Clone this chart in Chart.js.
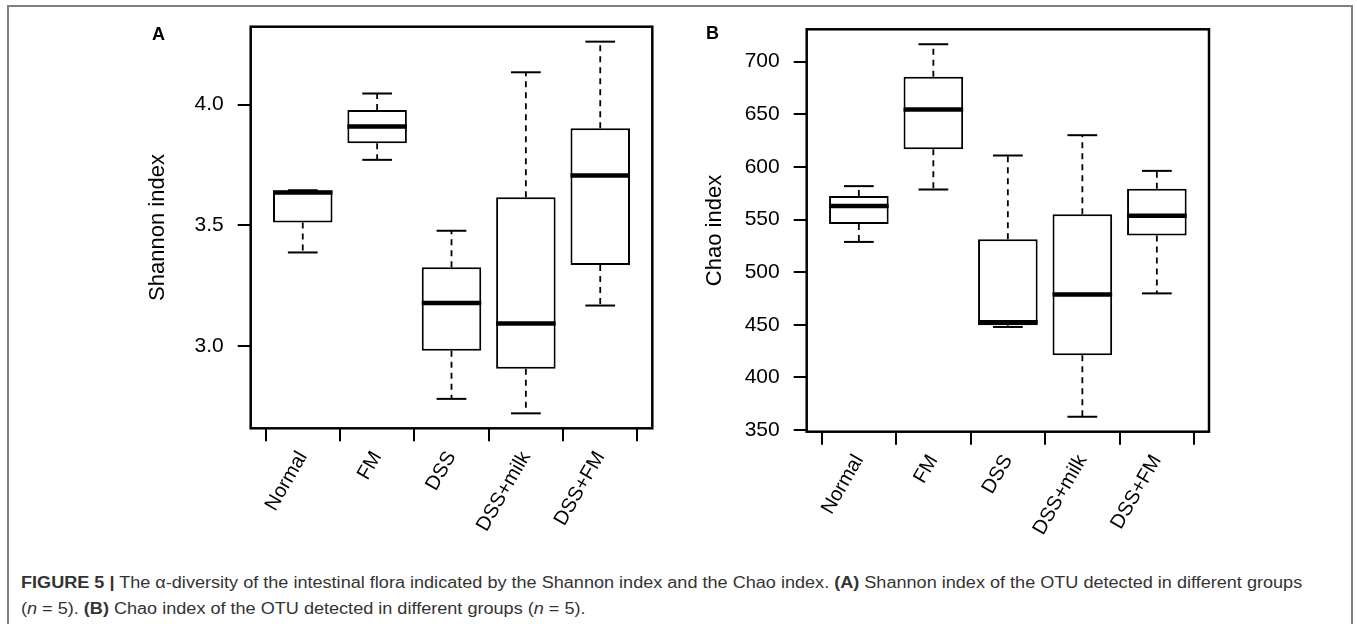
<!DOCTYPE html>
<html><head><meta charset="utf-8">
<script src="https://cdn.jsdelivr.net/npm/chart.js@4.4.1/dist/chart.umd.min.js"></script>
<style>
html,body{margin:0;padding:0;background:#fff;width:1357px;height:624px;overflow:hidden;font-family:"Liberation Sans",Arial,sans-serif;}
#frame{position:absolute;left:7px;top:5px;width:1346px;height:700px;border:2px solid #808080;box-sizing:border-box;}
canvas{position:absolute;top:0;}
#cA{left:120px;} #cB{left:680px;}
.lab{position:absolute;font-weight:bold;font-size:18px;line-height:18px;color:#000;}
#cap{position:absolute;left:21px;top:570px;font-size:16px;line-height:26px;color:#333;white-space:nowrap;transform:scaleX(1.13);transform-origin:0 0;}
</style></head>
<body>
<div id="frame"></div>
<canvas id="cA" width="560" height="545"></canvas>
<canvas id="cB" width="560" height="545"></canvas>
<div class="lab" style="left:152px;top:25px;">A</div>
<div class="lab" style="left:706px;top:24px;">B</div>
<div id="cap"><b>FIGURE 5 |</b> The α-diversity of the intestinal flora indicated by the Shannon index and the Chao index. <b>(A)</b> Shannon index of the OTU detected in different groups<br>(<i>n</i> = 5). <b>(B)</b> Chao index of the OTU detected in different groups (<i>n</i> = 5).</div>
<script>
const categories = ['Normal', 'FM', 'DSS', 'DSS+milk', 'DSS+FM'];
const xPositions = [1, 2, 3, 4, 5];

const shannonMin = [3.387, 3.771, 2.780, 2.720, 3.167];
const shannonQ1  = [3.511, 3.840, 2.979, 2.905, 3.335];
const shannonMed = [3.636, 3.909, 3.177, 3.093, 3.706];
const shannonQ3  = [3.644, 3.978, 3.326, 3.616, 3.902];
const shannonMax = [3.645, 4.046, 3.477, 4.134, 4.261];
const shannonTicks = [3.0, 3.5, 4.0];

const chaoMin = [528.7, 578.5, 447.9, 362.6, 479.8];
const chaoQ1  = [545.8, 616.8, 449.5, 421.0, 534.8];
const chaoMed = [562.9, 654.6, 452.4, 478.7, 553.5];
const chaoQ3  = [572.4, 685.7, 531.3, 555.0, 579.1];
const chaoMax = [581.7, 716.5, 610.8, 630.1, 596.2];
const chaoTicks = [350, 400, 450, 500, 550, 600, 650, 700];

const FONT = '"Liberation Sans", Arial, sans-serif';

const boxPlotPlugin = {
  id: 'boxplot',
  afterDatasetsDraw(chart, args, o) {
    const {ctx, chartArea: a, scales: {x, y}} = chart;
    const bw = x.getPixelForValue(1 + o.boxWidth / 2) - x.getPixelForValue(1 - o.boxWidth / 2);
    const py = v => y.getPixelForValue(v);
    const seg = (x1, y1, x2, y2) => { ctx.beginPath(); ctx.moveTo(x1, y1); ctx.lineTo(x2, y2); ctx.stroke(); };
    ctx.save();
    ctx.strokeStyle = '#000';
    ctx.lineCap = 'butt';
    for (let i = 0; i < o.pos.length; i++) {
      const cx = x.getPixelForValue(o.pos[i]);
      const half = bw / 2, capHalf = bw * o.capRatio / 2;
      ctx.lineWidth = 1.8; ctx.setLineDash([6, 5]);
      if (o.max[i] > o.q3[i]) seg(cx, py(o.q3[i]), cx, py(o.max[i]));
      if (o.min[i] < o.q1[i]) seg(cx, py(o.q1[i]), cx, py(o.min[i]));
      ctx.setLineDash([]);
      ctx.lineWidth = 2;
      seg(cx - capHalf, py(o.max[i]), cx + capHalf, py(o.max[i]));
      seg(cx - capHalf, py(o.min[i]), cx + capHalf, py(o.min[i]));
      ctx.lineWidth = 4.5;
      seg(cx - half, py(o.med[i]), cx + half, py(o.med[i]));
    }
    ctx.lineWidth = 2.5;
    ctx.strokeRect(a.left, a.top, a.width, a.height);
    ctx.restore();
  }
};

function makeChart(id, cfg) {
  const data = xPositions.map((p, i) => ({x: p, y: [cfg.q1[i], cfg.q3[i]]}));
  return new Chart(document.getElementById(id), {
    type: 'bar',
    data: {datasets: [{data, backgroundColor: '#fff', borderColor: '#000', borderWidth: 2, borderSkipped: false,
      categoryPercentage: 1, barPercentage: 0.8}]},
    plugins: [boxPlotPlugin],
    options: {
      responsive: false, animation: false, events: [],
      layout: {padding: {left: 0, top: cfg.padTop, right: cfg.padRight, bottom: 0}},
      plugins: {legend: {display: false}, tooltip: {enabled: false},
        boxplot: {pos: xPositions, min: cfg.min, q1: cfg.q1, med: cfg.med, q3: cfg.q3, max: cfg.max, boxWidth: 0.8, capRatio: 0.5}},
      scales: {
        x: {
          type: 'linear', min: 0.3, max: 5.7, offset: false,
          afterBuildTicks: ax => { ax.ticks = xPositions.map(v => ({value: v})); },
          afterFit: ax => { ax.height = cfg.xAxisH; },
          ticks: {autoSkip: false, minRotation: 60, maxRotation: 60, padding: 6, color: '#000',
            font: {family: FONT, size: 20}, callback: (v, i) => categories[i]},
          grid: {display: true, drawOnChartArea: false, drawTicks: true, tickLength: 13, color: '#000', lineWidth: 2},
          border: {display: false}
        },
        y: {
          type: 'linear', min: cfg.yMin, max: cfg.yMax,
          afterBuildTicks: ax => { ax.ticks = cfg.ticks.map(v => ({value: v})); },
          afterFit: ax => { ax.width = cfg.yAxisW; },
          ticks: {padding: 14, color: '#000', font: {family: FONT, size: 21}, callback: v => cfg.fmt(v)},
          grid: {display: true, drawOnChartArea: false, drawTicks: true, tickLength: 13, color: '#000', lineWidth: 2},
          border: {display: false},
          title: {display: true, text: cfg.title, color: '#000', font: {family: FONT, size: 22}, padding: {top: cfg.titlePad, bottom: 0}}
        }
      }
    }
  });
}

makeChart('cA', {min: shannonMin, q1: shannonQ1, med: shannonMed, q3: shannonQ3, max: shannonMax,
  ticks: shannonTicks, yMin: 2.658, yMax: 4.323, fmt: v => v.toFixed(1), title: 'Shannon index',
  padTop: 26.7, padRight: 27.7, yAxisW: 130.7, xAxisH: 116.7, titlePad: 24.8});
makeChart('cB', {min: chaoMin, q1: chaoQ1, med: chaoMed, q3: chaoQ3, max: chaoMax,
  ticks: chaoTicks, yMin: 348.4, yMax: 730.7, fmt: v => String(v), title: 'Chao index',
  padTop: 29.3, padRight: 31, yAxisW: 126.7, xAxisH: 113.3, titlePad: 21.8});
</script>
</body></html>
